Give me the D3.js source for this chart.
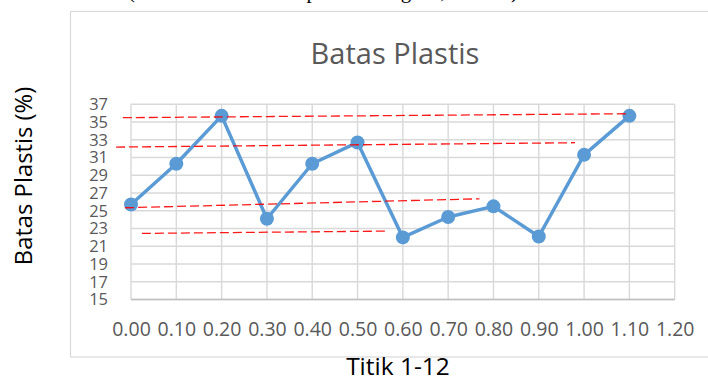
<!DOCTYPE html>
<html>
<head>
<meta charset="utf-8">
<script src="https://cdn.jsdelivr.net/npm/d3@7/dist/d3.min.js"></script>
<style>
  html, body { margin: 0; padding: 0; background: #fff; }
  svg { display: block; }
</style>
</head>
<body>
<svg id="chart" width="708" height="379"></svg>
<script>
// Sampling positions (titik 1-12) and measured plastic limit values (%)
const positions = [0.00, 0.10, 0.20, 0.30, 0.40, 0.50, 0.60, 0.70, 0.80, 0.90, 1.00, 1.10];
const plasticLimit = [25.7, 30.3, 35.7, 24.1, 30.3, 32.7, 22.0, 24.3, 25.5, 22.1, 31.3, 35.7];

// Axis ticks
const xTicks = [0.00, 0.10, 0.20, 0.30, 0.40, 0.50, 0.60, 0.70, 0.80, 0.90, 1.00, 1.10, 1.20];
const yTicks = [15, 17, 19, 21, 23, 25, 27, 29, 31, 33, 35, 37];

// Dashed red guide lines: start/end position and value
const guideX0 = [-0.018, -0.033, -0.013, 0.024];
const guideX1 = [1.098, 0.980, 0.769, 0.568];
const guideY0 = [35.49, 32.18, 25.34, 22.45];
const guideY1 = [35.94, 32.67, 26.35, 22.71];

const captionText = "(Sumber: Hasil perhitungan, 2021)";
const titleText = "Batas Plastis";
const yTitleText = "Batas Plastis (%)";
const xTitleText = "Titik 1-12";

const svg = d3.select("#chart");
const font = "'Open Sans', 'Noto Sans', sans-serif";

svg.append("rect").attr("width", 708).attr("height", 379).attr("fill", "#fff");

// Caption line from the page above the chart (only its descenders show)
svg.append("text")
  .attr("x", 128).attr("y", -2.5)
  .attr("textLength", 390).attr("lengthAdjust", "spacing")
  .attr("font-family", "'Liberation Serif', 'DejaVu Serif', serif")
  .attr("font-size", 21).attr("fill", "#000")
  .text(captionText);

// Chart frame
svg.append("rect")
  .attr("x", 70.5).attr("y", 11.5)
  .attr("width", 700).attr("height", 345.5)
  .attr("fill", "#fff").attr("stroke", "#d9d9d9").attr("stroke-width", 1.2);

const x = d3.scaleLinear().domain([0, 1.2]).range([131, 674.7]);
const y = d3.scaleLinear().domain([15, 37]).range([299.5, 104.3]);

// Gridlines
const grid = svg.append("g").attr("stroke", "#d9d9d9").attr("stroke-width", 1.4);
grid.selectAll("line.h").data(yTicks).join("line")
  .attr("class", "h")
  .attr("x1", x(0)).attr("x2", x(1.2))
  .attr("y1", d => y(d)).attr("y2", d => y(d));
grid.selectAll("line.v").data(xTicks).join("line")
  .attr("class", "v")
  .attr("x1", d => x(d)).attr("x2", d => x(d))
  .attr("y1", y(15)).attr("y2", y(37));

// Axis baseline
svg.append("line")
  .attr("x1", x(0)).attr("x2", x(1.2))
  .attr("y1", y(15)).attr("y2", y(15))
  .attr("stroke", "#bfbfbf").attr("stroke-width", 1.6);

// X axis labels
const xAxis = d3.axisBottom(x).tickValues(xTicks).tickFormat(d3.format(".2f"))
  .tickSize(0).tickPadding(23);
const gx = svg.append("g").attr("transform", `translate(0,${y(15)})`).call(xAxis);
gx.select(".domain").remove();
gx.selectAll("text")
  .attr("font-family", font).attr("font-size", 19.5).attr("fill", "#595959");

// Y axis labels
const yAxis = d3.axisLeft(y).tickValues(yTicks).tickFormat(d3.format("d"))
  .tickSize(0).tickPadding(23);
const gy = svg.append("g").attr("transform", `translate(${x(0)},0)`).call(yAxis);
gy.select(".domain").remove();
gy.selectAll("text")
  .attr("font-family", font).attr("font-size", 16.5).attr("fill", "#595959");

// Data line and markers
const line = d3.line().x((d, i) => x(positions[i])).y(d => y(d));
svg.append("path")
  .datum(plasticLimit)
  .attr("d", line)
  .attr("fill", "none").attr("stroke", "#5b9bd5")
  .attr("stroke-width", 3.5).attr("stroke-linejoin", "round");
svg.selectAll("circle.pt").data(plasticLimit).join("circle")
  .attr("class", "pt")
  .attr("cx", (d, i) => x(positions[i])).attr("cy", d => y(d))
  .attr("r", 7).attr("fill", "#5b9bd5");

// Dashed red guide lines
svg.selectAll("line.guide").data(guideX0).join("line")
  .attr("class", "guide")
  .attr("x1", (d, i) => x(guideX0[i])).attr("x2", (d, i) => x(guideX1[i]))
  .attr("y1", (d, i) => y(guideY0[i])).attr("y2", (d, i) => y(guideY1[i]))
  .attr("stroke", "#ff0000").attr("stroke-width", 1.3)
  .attr("stroke-dasharray", "9,4").attr("opacity", 0.9);

// Titles
svg.append("text")
  .attr("x", 395).attr("y", 64).attr("text-anchor", "middle")
  .attr("font-family", font).attr("font-size", 29).attr("fill", "#595959")
  .text(titleText);

svg.append("text")
  .attr("transform", "translate(32.3,176) rotate(-90)")
  .attr("text-anchor", "middle")
  .attr("font-family", font).attr("font-size", 23.8).attr("fill", "#000")
  .text(yTitleText);

svg.append("text")
  .attr("x", 398).attr("y", 375).attr("text-anchor", "middle")
  .attr("font-family", font).attr("font-size", 24.5).attr("fill", "#000")
  .text(xTitleText);
</script>
</body>
</html>
